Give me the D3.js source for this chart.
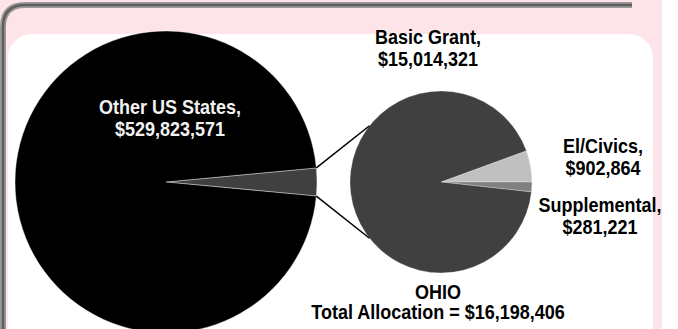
<!DOCTYPE html>
<html>
<head>
<meta charset="utf-8">
<script src="https://cdn.jsdelivr.net/npm/d3@7/dist/d3.min.js"></script>
<style>
  html, body { margin: 0; padding: 0; background: #ffffff; }
  svg { display: block; }
  text { font-family: "Liberation Sans", Arial, sans-serif; font-weight: bold; }
</style>
</head>
<body>
<svg id="chart" width="678" height="329"></svg>
<script>
// National allocation: Ohio vs. the rest of the states
const nationCategories = ["OHIO", "Other US States"];
const nationValues = [16198406, 529823571];

// Breakdown of Ohio's allocation
const ohioCategories = ["El/Civics", "Supplemental", "Basic Grant"];
const ohioValues = [902864, 281221, 15014321];

const nationColors = ["#404040", "#000000"];
const ohioColors = ["#c0c0c0", "#808080", "#404040"];

const W = 678, H = 329;
const svg = d3.select("#chart");
const money = d3.format("$,");

// Panel background and frame
svg.append("rect").attr("x", 0).attr("y", 0).attr("width", 662).attr("height", H).attr("fill", "#fce4e8");
svg.append("rect").attr("x", 8).attr("y", 34).attr("width", 645).attr("height", 400).attr("rx", 24).attr("fill", "#ffffff");
const framePath = "M3,340 V27 Q3,5 25,5 H632";
svg.append("path").attr("d", framePath).attr("fill", "none").attr("stroke", "#9a9a9a").attr("stroke-width", 6);
svg.append("path").attr("d", framePath).attr("fill", "none").attr("stroke", "#5e5e5e").attr("stroke-width", 2.5);

// Big pie: Ohio slice centred on the right-hand side
const big = { cx: 166, cy: 182, r: 151 };
const nationTotal = d3.sum(nationValues);
const ohioSpan = 2 * Math.PI * nationValues[0] / nationTotal;
const bigStart = Math.PI / 2 - ohioSpan / 2;
const bigPie = d3.pie().sort(null).value(d => d).startAngle(bigStart).endAngle(bigStart + 2 * Math.PI);
const bigArcs = bigPie(nationValues);
const bigArc = d3.arc().innerRadius(0).outerRadius(big.r);
const gBig = svg.append("g").attr("transform", `translate(${big.cx},${big.cy})`);
gBig.selectAll("path").data(bigArcs).join("path")
  .attr("d", bigArc)
  .attr("fill", (d, i) => nationColors[i])
  .attr("stroke", "#ffffff").attr("stroke-width", 0.4);

// Small pie: Ohio breakdown
const small = { cx: 441, cy: 182, r: 91 };
const ohioTotal = d3.sum(ohioValues);
const elSpan = 2 * Math.PI * ohioValues[0] / ohioTotal;
const smallStart = Math.PI / 2 - elSpan;
const smallPie = d3.pie().sort(null).value(d => d).startAngle(smallStart).endAngle(smallStart + 2 * Math.PI);
const smallArcs = smallPie(ohioValues);
const smallArc = d3.arc().innerRadius(0).outerRadius(small.r);
const gSmall = svg.append("g").attr("transform", `translate(${small.cx},${small.cy})`);
gSmall.selectAll("path").data(smallArcs).join("path")
  .attr("d", smallArc)
  .attr("fill", (d, i) => ohioColors[i])
  .attr("stroke", "#ffffff").attr("stroke-width", 0.3);

// Connector lines from the Ohio slice to the breakdown pie
const pt = (c, a) => [c.cx + c.r * Math.sin(a), c.cy - c.r * Math.cos(a)];
const tangentAngle = 0.904;
const connectors = [
  [pt(big, bigArcs[0].startAngle), pt(small, -tangentAngle)],
  [pt(big, bigArcs[0].endAngle), pt(small, Math.PI + tangentAngle)]
];
svg.selectAll("line.connector").data(connectors).join("line")
  .attr("class", "connector")
  .attr("x1", d => d[0][0]).attr("y1", d => d[0][1])
  .attr("x2", d => d[1][0]).attr("y2", d => d[1][1])
  .attr("stroke", "#000000").attr("stroke-width", 1.5);

// Data labels, set in a slightly condensed bold face
function label(x, y, lines, color, lh = 22.5) {
  const t = svg.append("text")
    .attr("transform", `translate(${x},${y}) scale(0.9,1)`)
    .attr("text-anchor", "middle").attr("font-size", 20).attr("fill", color);
  lines.forEach((s, i) => t.append("tspan").attr("x", 0).attr("y", i * lh).text(s));
}
label(170, 114, [nationCategories[1] + ",", money(nationValues[1])], "#f2f2f2");
label(428, 44, [ohioCategories[2] + ",", money(ohioValues[2])], "#000000");
label(603, 153, [ohioCategories[0] + ",", money(ohioValues[0])], "#000000");
label(600, 212, [ohioCategories[1] + ",", money(ohioValues[1])], "#000000");
label(438, 299, [nationCategories[0], "Total Allocation = " + money(nationValues[0])], "#000000", 20);
</script>
</body>
</html>
